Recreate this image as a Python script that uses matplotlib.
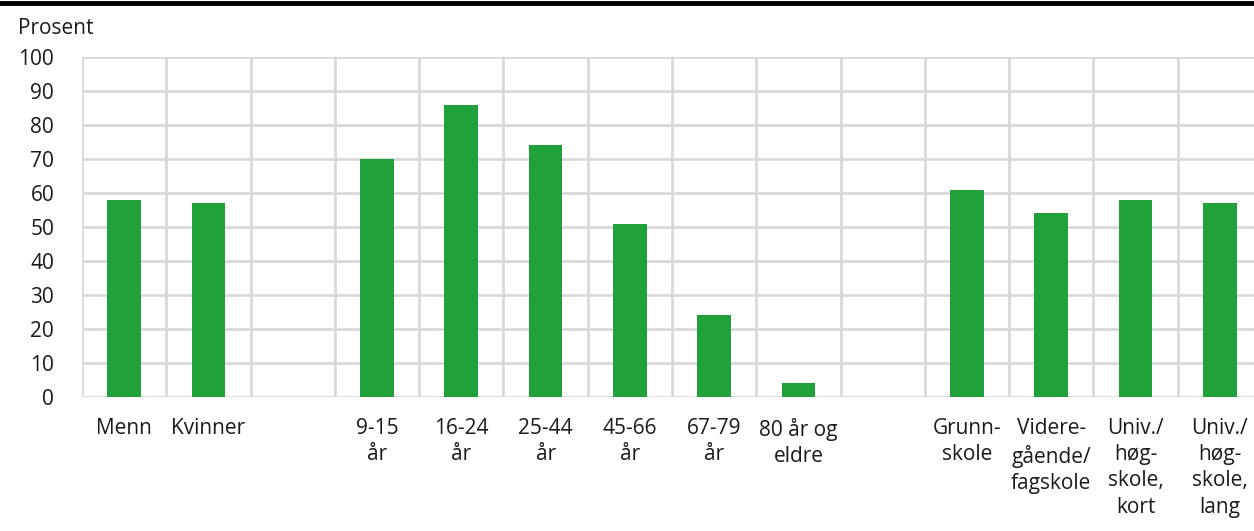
import matplotlib.pyplot as plt
import numpy as np

plt.rcParams['font.family'] = ['Open Sans', 'DejaVu Sans']

categories = ["Menn", "Kvinner", "", "9-15\når", "16-24\når", "25-44\når", "45-66\når",
              "67-79\når", "80 år og\neldre", "", "Grunn-\nskole", "Videre-\ngående/\nfagskole",
              "Univ./\nhøg-\nskole,\nkort", "Univ./\nhøg-\nskole,\nlang"]
values = [58, 57, np.nan, 70, 86, 74, 51, 24, 4, np.nan, 61, 54, 58, 57]
yticks = [0, 10, 20, 30, 40, 50, 60, 70, 80, 90, 100]

green = "#21a13a"
grid = "#d9d9d9"
fs = 15

fig = plt.figure(figsize=(12.54, 5.31), dpi=100)
# axes: left 82px, right ~1262px (slightly past the edge), y0=397, y100=57
ax = fig.add_axes([82 / 1254, 1 - 397 / 531, 1180 / 1254, 340 / 531])

x = np.arange(len(categories))
ax.bar(x, values, width=0.4, color=green, zorder=3)

ax.set_xlim(-0.5, len(categories) - 0.5)
ax.set_ylim(0, 100)
ax.set_yticks(yticks)
ax.set_xticks(x)
ax.set_xticklabels(categories, fontsize=fs, color="#1a1a1a", linespacing=1.33, va="top")
ax.tick_params(axis="x", length=0, pad=15)
ax.tick_params(axis="y", length=0, pad=20, labelsize=fs, labelcolor="#1a1a1a")

for b in np.arange(-0.5, len(categories), 1.0):
    ax.axvline(b, color=grid, lw=2, zorder=1)
for t in yticks:
    ax.axhline(t, color=grid, lw=2, zorder=1)

for s in ax.spines.values():
    s.set_visible(False)

fig.text(18 / 1254, 1 - 28 / 531, "Prosent", fontsize=fs, color="#1a1a1a", va="center", ha="left")
fig.add_artist(plt.Line2D([0, 1], [1 - 3 / 531, 1 - 3 / 531], color="black", lw=3.5))

fig.savefig("out.png", dpi=100)
